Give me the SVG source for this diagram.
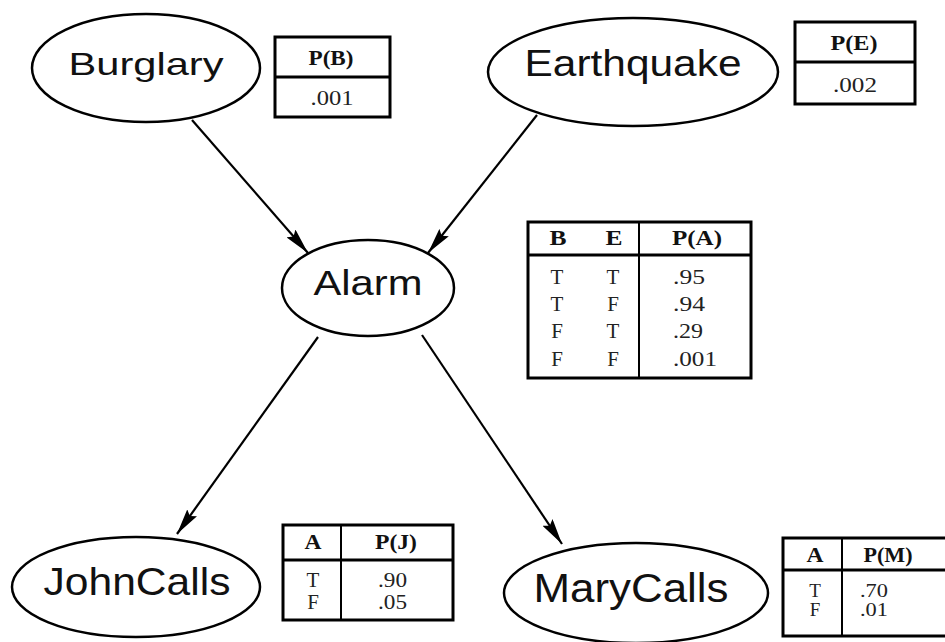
<svg xmlns="http://www.w3.org/2000/svg" width="945" height="642" viewBox="0 0 945 642">
<defs>
<marker id="arr" viewBox="0 0 26 12" refX="26" refY="6" markerWidth="26" markerHeight="12" markerUnits="userSpaceOnUse" orient="auto">
<path d="M0,0 L26,6 L0,12 L4,6 Z" fill="#000"/>
</marker>
</defs>
<style>
.node{fill:#fff;stroke:#000;stroke-width:2.5}
.lbl{font-family:"Liberation Sans",Arial,sans-serif;fill:#111;text-anchor:middle}
.edge{stroke:#000;stroke-width:2.2;fill:none;marker-end:url(#arr)}
.tb{fill:#fff;stroke:#000;stroke-width:3}
.ln{stroke:#000;stroke-width:3}
.vl{stroke:#000;stroke-width:2}
.th{font-family:"Liberation Serif","Times New Roman",serif;font-weight:bold;font-size:20px;fill:#111;text-anchor:middle}
.td{font-family:"Liberation Serif","Times New Roman",serif;font-size:21px;fill:#222}
.sm{font-size:19px}
.c{text-anchor:middle}
</style>
<rect width="945" height="642" fill="#fff"/>
<g id="edges">
<line class="edge" x1="192" y1="120" x2="308" y2="253"/>
<line class="edge" x1="537" y1="115" x2="428" y2="253"/>
<line class="edge" x1="318" y1="337" x2="177" y2="534"/>
<line class="edge" x1="422" y1="335" x2="562" y2="544"/>
</g>
<g id="burglary">
<ellipse class="node" cx="146" cy="68" rx="114" ry="54"/>
<text class="lbl" x="146" y="75" font-size="32" textLength="155" lengthAdjust="spacingAndGlyphs">Burglary</text>
</g>
<g id="table-b">
<rect class="tb" x="275" y="37" width="115" height="80"/>
<line class="ln" x1="275" y1="77" x2="390" y2="77"/>
<text class="th" x="331" y="65" textLength="45" lengthAdjust="spacingAndGlyphs">P(B)</text>
<text class="td c" x="332" y="105" textLength="43" lengthAdjust="spacingAndGlyphs">.001</text>
</g>
<g id="earthquake">
<ellipse class="node" cx="633" cy="72" rx="145" ry="54"/>
<text class="lbl" x="633" y="76" font-size="37" textLength="217" lengthAdjust="spacingAndGlyphs">Earthquake</text>
</g>
<g id="table-e">
<rect class="tb" x="795" y="22" width="120" height="82"/>
<line class="ln" x1="795" y1="62" x2="915" y2="62"/>
<text class="th" x="854" y="50" textLength="47" lengthAdjust="spacingAndGlyphs">P(E)</text>
<text class="td c" x="855" y="92" textLength="44" lengthAdjust="spacingAndGlyphs">.002</text>
</g>
<g id="alarm">
<ellipse class="node" cx="368" cy="288" rx="86" ry="48"/>
<text class="lbl" x="368" y="295" font-size="35" textLength="109" lengthAdjust="spacingAndGlyphs">Alarm</text>
</g>
<g id="table-a">
<rect class="tb" x="528" y="222" width="223" height="156"/>
<line class="ln" x1="528" y1="255" x2="751" y2="255"/>
<line class="vl" x1="639" y1="222" x2="639" y2="378"/>
<text class="th" x="558" y="245" textLength="17" lengthAdjust="spacingAndGlyphs">B</text>
<text class="th" x="614" y="245" textLength="17" lengthAdjust="spacingAndGlyphs">E</text>
<text class="th" x="697" y="245" textLength="50" lengthAdjust="spacingAndGlyphs">P(A)</text>
<text class="td c" x="557" y="284">T</text><text class="td c" x="613" y="284">T</text><text class="td" x="673" y="284" textLength="32" lengthAdjust="spacingAndGlyphs">.95</text>
<text class="td c" x="557" y="311">T</text><text class="td c" x="613" y="311">F</text><text class="td" x="673" y="311" textLength="32" lengthAdjust="spacingAndGlyphs">.94</text>
<text class="td c" x="557" y="338">F</text><text class="td c" x="613" y="338">T</text><text class="td" x="673" y="338" textLength="30" lengthAdjust="spacingAndGlyphs">.29</text>
<text class="td c" x="557" y="366">F</text><text class="td c" x="613" y="366">F</text><text class="td" x="673" y="366" textLength="44" lengthAdjust="spacingAndGlyphs">.001</text>
</g>
<g id="johncalls">
<ellipse class="node" cx="136" cy="587" rx="124" ry="50"/>
<text class="lbl" x="137" y="595" font-size="39" textLength="187" lengthAdjust="spacingAndGlyphs">JohnCalls</text>
</g>
<g id="table-j">
<rect class="tb" x="283" y="525" width="170" height="95"/>
<line class="ln" x1="283" y1="560" x2="453" y2="560"/>
<line class="vl" x1="341" y1="525" x2="341" y2="620"/>
<text class="th" x="313" y="549" textLength="17" lengthAdjust="spacingAndGlyphs">A</text>
<text class="th" x="396" y="549" textLength="42" lengthAdjust="spacingAndGlyphs">P(J)</text>
<text class="td c" x="313" y="587">T</text><text class="td" x="378" y="587" textLength="29" lengthAdjust="spacingAndGlyphs">.90</text>
<text class="td c" x="313" y="609">F</text><text class="td" x="378" y="609" textLength="29" lengthAdjust="spacingAndGlyphs">.05</text>
</g>
<g id="marycalls">
<ellipse class="node" cx="636" cy="593" rx="132" ry="50"/>
<text class="lbl" x="631" y="602" font-size="40" textLength="195" lengthAdjust="spacingAndGlyphs">MaryCalls</text>
</g>
<g id="table-m">
<rect class="tb" x="783" y="538" width="170" height="98"/>
<line class="ln" x1="783" y1="570" x2="953" y2="570"/>
<line class="vl" x1="842" y1="538" x2="842" y2="636"/>
<text class="th" x="815" y="562" textLength="17" lengthAdjust="spacingAndGlyphs">A</text>
<text class="th" x="888" y="562" textLength="49" lengthAdjust="spacingAndGlyphs">P(M)</text>
<text class="td sm c" x="815" y="597">T</text><text class="td sm" x="860" y="597" textLength="28" lengthAdjust="spacingAndGlyphs">.70</text>
<text class="td sm c" x="815" y="616">F</text><text class="td sm" x="860" y="616" textLength="28" lengthAdjust="spacingAndGlyphs">.01</text>
</g>
</svg>
